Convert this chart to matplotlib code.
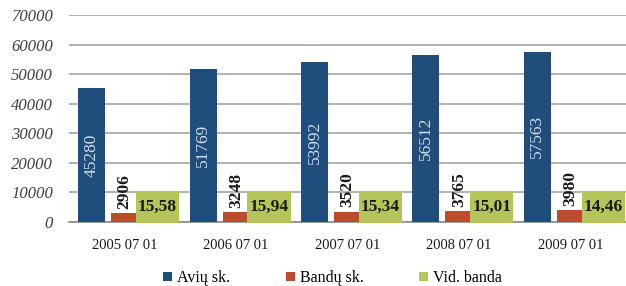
import numpy as np
import matplotlib
matplotlib.use("Agg")
import matplotlib.pyplot as plt
from matplotlib.path import Path

dates = ["2005 07 01", "2006 07 01", "2007 07 01", "2008 07 01", "2009 07 01"]
aviu = [45280, 51769, 53992, 56512, 57563]
bandu = [2906, 3248, 3520, 3765, 3980]
vid_banda = [15.58, 15.94, 15.34, 15.01, 14.46]
series_names = ["Avių sk.", "Bandų sk.", "Vid. banda"]
yticks = [0, 10000, 20000, 30000, 40000, 50000, 60000, 70000]

c_blue = "#1F4E7D"
c_red = "#BE4B30"
c_green = "#B5C55A"

plt.rcParams['font.family'] = 'serif'
plt.rcParams['font.serif'] = ['Liberation Serif', 'DejaVu Serif']


def tall_box(x0, y0, width, height, mutation_size):
    # label box: narrow side padding, tall top/bottom padding
    px = 0.12 * mutation_size
    py = 0.46 * mutation_size
    return Path([(x0 - px, y0 - py), (x0 + width + px, y0 - py),
                 (x0 + width + px, y0 + height + py), (x0 - px, y0 + height + py),
                 (x0 - px, y0 - py)], closed=True)


fig = plt.figure(figsize=(6.26, 2.86), dpi=100)
ax = fig.add_axes([0.110, 0.2238, 0.890, 0.7238])

x = np.arange(len(dates))
off = 0.296
w = 0.242

b1 = ax.bar(x - off, aviu, w, color=c_blue, label=series_names[0], zorder=3)
b2 = ax.bar(x, bandu, w, color=c_red, label=series_names[1], zorder=3)
b3 = ax.bar(x + off, vid_banda, w, color=c_green, label=series_names[2], zorder=3)

# data labels
for xi, v in zip(x - off, aviu):
    ax.text(xi, v / 2, str(v), rotation=90, ha='center', va='center',
            color="#D5DCE6", fontsize=12.5, zorder=4)
for xi, v in zip(x, bandu):
    ax.annotate(str(v), (xi, v), xytext=(0, 3), textcoords='offset points',
                rotation=90, ha='center', va='bottom', fontsize=12.5,
                fontweight='bold', color='#1a1a1a', zorder=4)
for xi, v in zip(x + off, vid_banda):
    ax.annotate(f"{v:.2f}".replace('.', ','), (xi, 0), xytext=(0, 11),
                textcoords='offset points', ha='center', va='center',
                fontsize=12.5, fontweight='bold', color='#1a1a1a', zorder=4,
                bbox=dict(boxstyle=tall_box, fc=c_green, ec='none'))

ax.set_xlim(-0.5, len(dates) - 0.5)
ax.set_ylim(0, 70000)
ax.set_yticks(yticks)
ax.set_yticklabels([str(t) for t in yticks], fontstyle='italic', fontsize=12, color='#404040')
ax.set_xticks(x)
ax.set_xticklabels(dates, fontsize=10.5, color='#1a1a1a')
ax.tick_params(axis='y', length=0, pad=11.5)
ax.tick_params(axis='x', length=0, pad=12)
ax.grid(axis='y', color='#A6A6A6', linewidth=1.2, zorder=0)
for s in ['top', 'right', 'left']:
    ax.spines[s].set_visible(False)
ax.spines['bottom'].set_color('#8C8C8C')
ax.spines['bottom'].set_linewidth(1.2)

fig.legend(handles=[b1, b2, b3], labels=series_names, loc='center',
           bbox_to_anchor=(0.531, 0.027), ncol=3, frameon=False, fontsize=11.5,
           handlelength=0.56, handleheight=0.5, handletextpad=0.31,
           columnspacing=3.5, borderaxespad=0, borderpad=0)

fig.savefig("out.png", dpi=100)
